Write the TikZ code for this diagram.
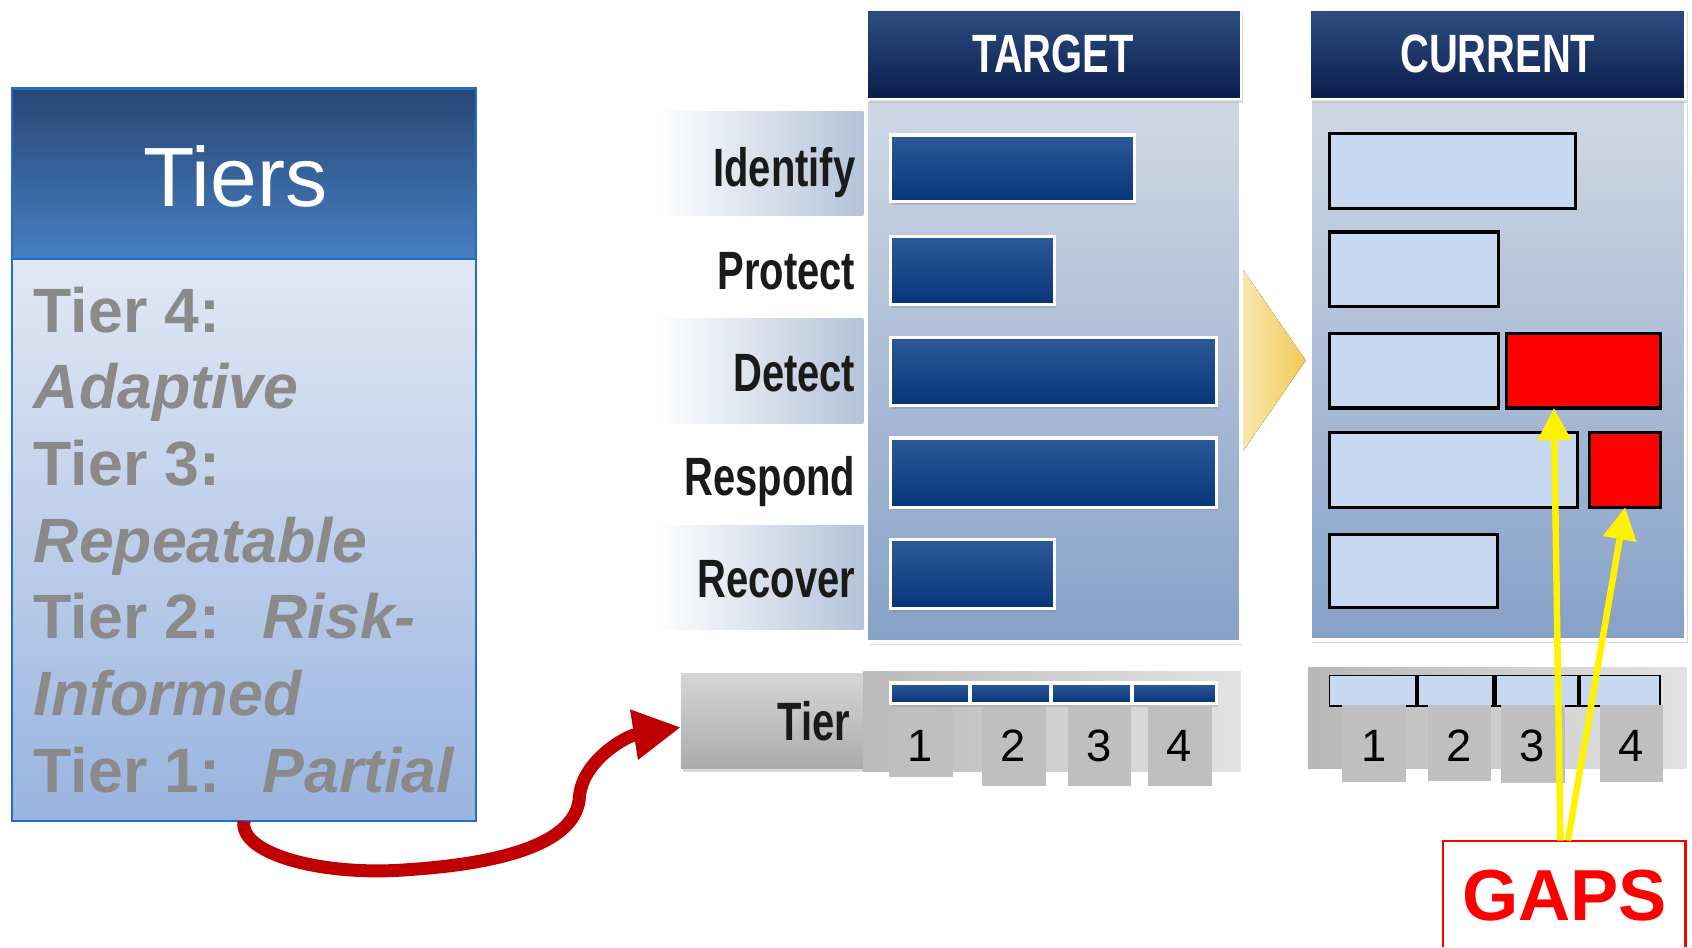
\documentclass[tikz,border=0pt]{standalone}
\usepackage{fontspec}
\setmainfont{Liberation Sans}
\newfontfamily\narrowfont[FakeStretch=0.74]{Liberation Sans}
\usetikzlibrary{arrows.meta,shadows,fit,calc}
\definecolor{tierBorder}{HTML}{1F70C4}
\definecolor{tiersHtop}{HTML}{284674}
\definecolor{tiersHbot}{HTML}{4680C2}
\definecolor{tiersBtop}{HTML}{E1E8F4}
\definecolor{tiersBbot}{HTML}{99B4E0}
\definecolor{tierText}{HTML}{8A8A8A}
\definecolor{hdrTop}{HTML}{2E4E82}
\definecolor{hdrBot}{HTML}{0A1D4C}
\definecolor{panelTop}{HTML}{D0D8E5}
\definecolor{panelBot}{HTML}{86A1C7}
\definecolor{bandM}{HTML}{C9D3E2}
\definecolor{bandR}{HTML}{B4C3D9}
\definecolor{navyTop}{HTML}{2C5A98}
\definecolor{navyBot}{HTML}{08357A}
\definecolor{curFill}{HTML}{C6D9F0}
\definecolor{numBox}{HTML}{BFBFBF}
\definecolor{labelC}{HTML}{1A1A1A}
\definecolor{chevL}{HTML}{FDF5DA}
\definecolor{chevR}{HTML}{F2C953}
\definecolor{arrowRed}{HTML}{C00000}
\newcommand\bx[6]{\node[boxbase, fit={(#2,#3)(#4,#5)}, #6] (#1) {};}
\begin{document}
\begin{tikzpicture}[x=0.5pt,y=-0.5pt,
  boxbase/.style={inner sep=0pt, outer sep=0pt},
  shad/.style={drop shadow={shadow xshift=1pt, shadow yshift=-1.5pt, opacity=0.3}},
  hdrbox/.style={top color=hdrTop, bottom color=hdrBot, draw=white, line width=1pt, shad},
  panelbox/.style={top color=panelTop, bottom color=panelBot, draw=white, line width=1.5pt, shad},
  band/.style={left color=white, middle color=bandM, right color=bandR},
  navybar/.style={top color=navyTop, bottom color=navyBot, draw=white, line width=1.5pt, shad},
  curbar/.style={fill=curFill, draw=black, line width=1.5pt},
  gapbar/.style={fill=red, draw=black, line width=1.5pt},
  numbox/.style={fill=numBox},
  hdrtext/.style={anchor=base, inner sep=0pt, text=white, font=\narrowfont\bfseries\fontsize{25}{30}\selectfont},
  lbl/.style={anchor=base east, inner sep=0pt, text=labelC, font=\narrowfont\bfseries\fontsize{25}{30}\selectfont},
  numtext/.style={anchor=base, inner sep=0pt, text=black, font=\fontsize{21}{25}\selectfont},
  tt/.style={anchor=base west, inner sep=0pt, text=tierText, font=\bfseries\fontsize{29}{35}\selectfont},
  ti/.style={anchor=base west, inner sep=0pt, text=tierText, font=\bfseries\itshape\fontsize{29}{35}\selectfont},
  redarrow/.style={draw=arrowRed, line width=6pt, -{Triangle[length=22pt,width=22pt]}},
  yarrow/.style={draw=yellow, line width=3pt, -{Triangle[length=15pt,width=15pt]}}
]
\useasboundingbox (0,0) rectangle (1568,878);

% ---------- Tiers box ----------
\bx{tiersH}{11}{82}{441}{240}{top color=tiersHtop, bottom color=tiersHbot, draw=tierBorder, line width=1pt}
\bx{tiersB}{11}{240}{441}{761}{top color=tiersBtop, bottom color=tiersBbot, draw=tierBorder, line width=1pt}
\node[anchor=base, inner sep=0pt, text=white, font=\fontsize{39}{44}\selectfont] (tiersT) at (218,191) {Tiers};
\node[tt] (l1) at (31,308) {Tier 4:};
\node[ti] (l2) at (31,379) {Adaptive};
\node[tt] (l3) at (31,450) {Tier 3:};
\node[ti] (l4) at (31,521) {Repeatable};
\node[tt] (l5) at (31,592) {Tier 2:};
\node[ti] (l5b) at (243,592) {Risk-};
\node[ti] (l6) at (31,663) {Informed};
\node[tt] (l7) at (31,734) {Tier 1:};
\node[ti] (l7b) at (243,734) {Partial};

% ---------- chevron between panels ----------
\fill[left color=chevL, right color=chevR] (1125,250) -- (1152,250) -- (1210,334) -- (1152,418) -- (1125,418) -- cycle;

% ---------- label bands ----------
\bx{bandId}{607}{103}{800}{200}{band}
\bx{bandDe}{607}{295}{800}{392}{band}
\bx{bandRe}{607}{487}{800}{583}{band}

% ---------- TARGET panel ----------
\bx{tbody}{803}{93}{1150}{595}{panelbox}
\bx{thead}{803}{9}{1150}{92}{hdrbox}
\node[hdrtext] (ttext) at (976,67) {TARGET};

\bx{tb1}{825}{125}{1051}{187}{navybar}
\bx{tb2}{825}{219}{977}{282}{navybar}
\bx{tb3}{825}{313}{1127}{376}{navybar}
\bx{tb4}{825}{406}{1127}{470}{navybar}
\bx{tb5}{825}{500}{977}{564}{navybar}

\node[lbl] (lId) at (793,173) {Identify};
\node[lbl] (lPr) at (793,268) {Protect};
\node[lbl] (lDe) at (793,363) {Detect};
\node[lbl] (lRs) at (793,459) {Respond};
\node[lbl] (lRc) at (793,554) {Recover};

% ---------- CURRENT panel ----------
\bx{cbody}{1214}{93}{1562}{593}{panelbox}
\bx{chead}{1214}{9}{1562}{92}{hdrbox}
\node[hdrtext] (ctext) at (1388,67) {CURRENT};

\bx{cb1}{1232}{124}{1460}{193}{curbar}
\bx{cb2}{1232}{215}{1389}{284}{curbar}
\bx{cb3}{1232}{309}{1389}{378}{curbar}
\bx{cr3}{1396}{309}{1539}{378}{gapbar}
\bx{cb4}{1232}{401}{1462}{470}{curbar}
\bx{cr4}{1473}{401}{1539}{470}{gapbar}
\bx{cb5}{1232}{495}{1388}{563}{curbar}

% ---------- Target tier row ----------
\bx{tiertab}{631}{624}{800}{712}{top color=black!16, bottom color=black!33, shad}
\node[lbl] (lTier) at (788,686) {Tier};
\bx{ttpanel}{800}{622}{1150}{715}{left color=black!27, right color=black!11}
\bx{ts1}{825}{633}{899}{652}{navybar}
\bx{ts2}{899}{633}{974}{652}{navybar}
\bx{ts3}{974}{633}{1049}{652}{navybar}
\bx{ts4}{1049}{633}{1127}{652}{navybar}
\bx{tn1}{824}{655}{883}{720}{numbox}
\bx{tn2}{910}{655}{969}{728}{numbox}
\bx{tn3}{990}{655}{1048}{728}{numbox}
\bx{tn4}{1064}{655}{1123}{728}{numbox}
\node[numtext] at (853,706) {1};
\node[numtext] at (939,706) {2};
\node[numtext] at (1019,706) {3};
\node[numtext] at (1093,706) {4};

% ---------- Current tier row ----------
\bx{ctpanel}{1212}{619}{1563}{712}{left color=black!28, right color=black!11}
\bx{cs1}{1232}{626}{1313}{654}{fill=curFill, draw=black, line width=0.8pt}
\bx{cs2}{1313}{626}{1385}{654}{fill=curFill, draw=black, line width=0.8pt}
\bx{cs3}{1385}{626}{1463}{654}{fill=curFill, draw=black, line width=0.8pt}
\bx{cs4}{1463}{626}{1538}{654}{fill=curFill, draw=black, line width=0.8pt}
\draw[line width=2pt] (cs1.north east) -- (cs1.south east);
\draw[line width=2pt] (cs2.north east) -- (cs2.south east);
\draw[line width=2pt] (cs3.north east) -- (cs3.south east);
\bx{cn1}{1244}{653}{1303}{725}{numbox}
\bx{cn2}{1323}{653}{1382}{724}{numbox}
\bx{cn3}{1391}{653}{1450}{726}{numbox}
\bx{cn4}{1483}{653}{1541}{725}{numbox}
\node[numtext] at (1273,706) {1};
\node[numtext] at (1352,706) {2};
\node[numtext] at (1420,706) {3};
\node[numtext] at (1512,706) {4};

% ---------- GAPS ----------
\bx{gapsbox}{1337}{779}{1562}{878}{}
\draw[red, line width=1pt] (gapsbox.south west) -- (gapsbox.north west) -- (gapsbox.north east) -- (gapsbox.south east);
\node[anchor=base, inner sep=0pt, text=red, font=\bfseries\fontsize{33.5}{38}\selectfont] (gapsT) at (1450,853) {GAPS};

% ---------- connectors ----------
\draw[redarrow] (tiersB.south) .. controls (222,792) and (300,812) .. (377,806)
   .. controls (470,800) and (535,780) .. (537,738)
   .. controls (540,705) and (580,682) .. ([yshift=-3pt]tiertab.west);
\draw[yarrow] ([xshift=-1.75pt]gapsbox.north) -- ([xshift=-13.75pt]cr3.south);
\draw[yarrow] ([xshift=1.75pt]gapsbox.north) -- (cr4.south);
\end{tikzpicture}
\end{document}
